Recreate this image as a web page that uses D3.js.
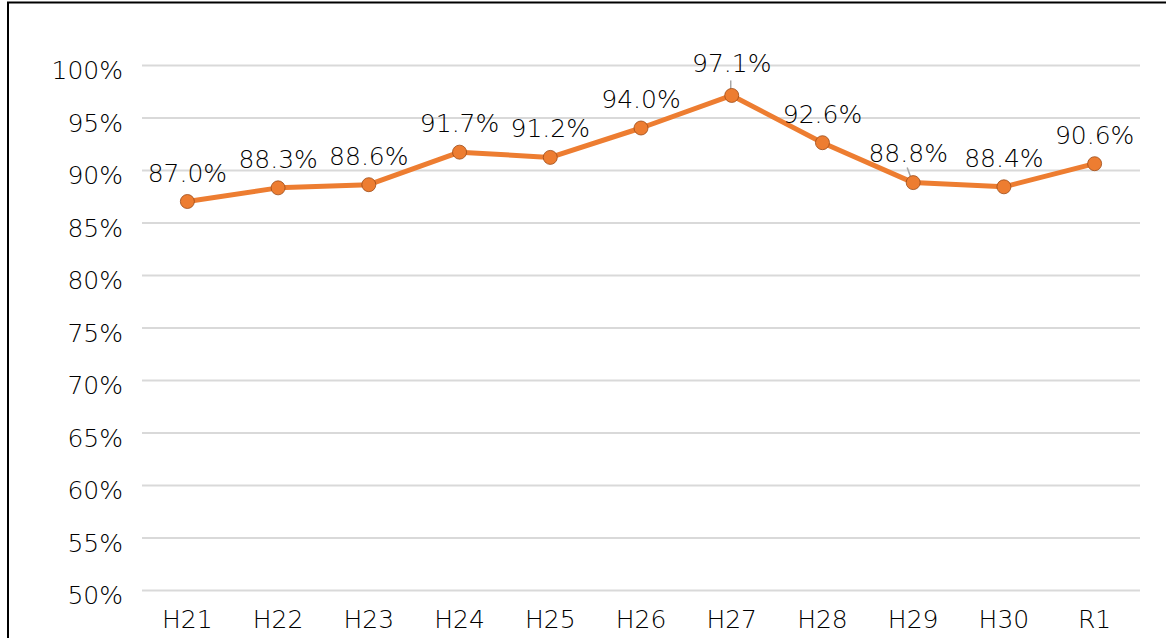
<!DOCTYPE html>
<html>
<head>
<meta charset="utf-8">
<script src="https://cdn.jsdelivr.net/npm/d3@7"></script>
<style>
  body { margin: 0; background: #fff; }
  svg text { font-family: "DejaVu Sans", sans-serif; fill: #000; font-weight: 200; }
</style>
</head>
<body>
<div id="chart"></div>
<script>
var years = ["H21", "H22", "H23", "H24", "H25", "H26", "H27", "H28", "H29", "H30", "R1"];
var rates = [87.0, 88.3, 88.6, 91.7, 91.2, 94.0, 97.1, 92.6, 88.8, 88.4, 90.6];
var y_ticks = [50, 55, 60, 65, 70, 75, 80, 85, 90, 95, 100];

function draw_chart() {
    const W = 1166, H = 638;
    const LEFT = 142, RIGHT = 1140, TOP = 65, BOTTOM = 590;
    const ORANGE = "#ED7D31";

    var svg = d3.select("#chart")
        .append("svg")
            .attr("width", W)
            .attr("height", H);

    svg.append("rect")
        .attr("x", 8)
        .attr("y", 2.5)
        .attr("width", W + 20)
        .attr("height", H + 20)
        .attr("fill", "white")
        .attr("stroke", "black")
        .attr("stroke-width", 2);

    var x = d3.scaleBand()
        .domain(years)
        .range([LEFT, RIGHT]);

    var y = d3.scaleLinear()
        .domain([50, 100])
        .range([BOTTOM, TOP]);

    // gridlines + y labels
    var y_axis = d3.axisLeft(y)
        .tickValues(y_ticks)
        .tickSize(-(RIGHT - LEFT))
        .tickFormat(function (d) { return d + "%"; });

    var gy = svg.append("g")
        .attr("transform", "translate(" + LEFT + ",0)")
        .call(y_axis);
    gy.select(".domain").remove();
    gy.selectAll(".tick line")
        .attr("stroke", "#d9d9d9")
        .attr("stroke-width", 2);
    gy.selectAll(".tick text")
        .attr("x", -19)
        .attr("dy", "0.72em")
        .attr("y", -4.5)
        .attr("font-size", 25)
        .attr("font-family", "DejaVu Sans");

    // x labels
    var x_axis = d3.axisBottom(x).tickSize(0);
    var gx = svg.append("g")
        .attr("transform", "translate(0," + BOTTOM + ")")
        .call(x_axis);
    gx.select(".domain").remove();
    gx.selectAll(".tick text")
        .attr("y", 0)
        .attr("dy", 38)
        .attr("font-size", 25)
        .attr("font-family", "DejaVu Sans");

    var cx = function (d, i) { return x(years[i]) + x.bandwidth() / 2; };
    var cy = function (d) { return y(d); };

    var line = d3.line()
        .x(cx)
        .y(cy);

    svg.append("path")
        .attr("d", line(rates))
        .attr("fill", "none")
        .attr("stroke", ORANGE)
        .attr("stroke-width", 5)
        .attr("stroke-linejoin", "round");

    // labels moved off their point get a leader line
    var moved = { "H27": [0, -22], "H29": [-5, -20] };

    svg.selectAll("line.leader")
        .data(rates)
        .enter()
        .filter(function (d, i) { return moved[years[i]]; })
        .append("line")
            .attr("class", "leader")
            .attr("x1", function (d) { var i = rates.indexOf(d); return cx(d, i) + (years[i] == "H29" ? -6 : -1); })
            .attr("y1", function (d) { return cy(d) - 15; })
            .attr("x2", function (d) { var i = rates.indexOf(d); return cx(d, i) + (years[i] == "H29" ? -2 : -1); })
            .attr("y2", function (d) { return cy(d) - 4; })
            .attr("stroke", "#a6a6a6")
            .attr("stroke-width", 1.5);

    svg.selectAll("circle.pt")
        .data(rates)
        .enter()
        .append("circle")
            .attr("class", "pt")
            .attr("cx", cx)
            .attr("cy", cy)
            .attr("r", 7)
            .attr("fill", ORANGE)
            .attr("stroke", "#9c4a17")
            .attr("stroke-width", 0.8);

    svg.selectAll("text.val")
        .data(rates)
        .enter()
        .append("text")
            .attr("class", "val")
            .attr("x", function (d, i) { var m = moved[years[i]]; return cx(d, i) + (m ? m[0] : 0); })
            .attr("y", function (d, i) { var m = moved[years[i]]; return cy(d) + (m ? m[1] - 1 : -20); })
            .attr("text-anchor", "middle")
            .attr("font-size", 25)
            .text(function (d) { return d.toFixed(1) + "%"; });
}

draw_chart();
</script>
</body>
</html>
